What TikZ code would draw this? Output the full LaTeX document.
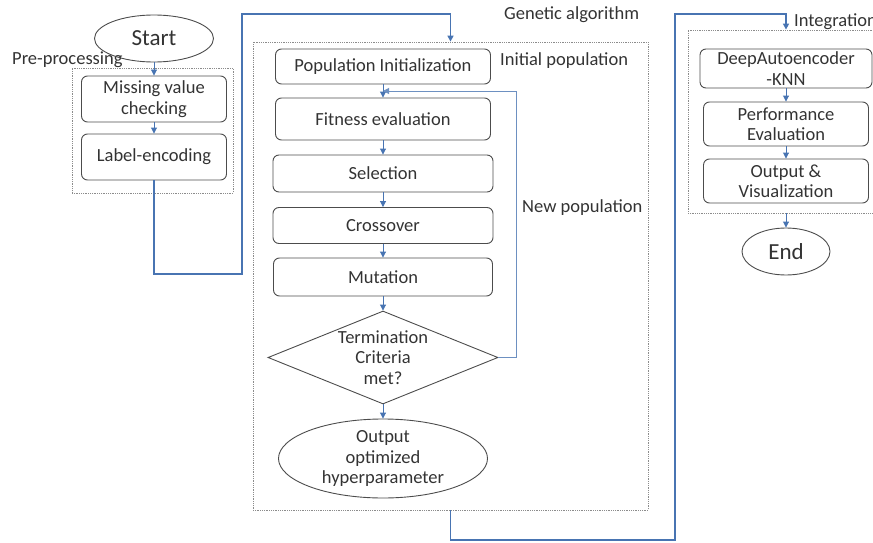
\documentclass[tikz,border=0pt]{standalone}
\usepackage{fontspec}
\setmainfont{Carlito}
\usetikzlibrary{shapes.geometric,arrows.meta}
\definecolor{linkblue}{RGB}{72,116,178}

\begin{document}
\begin{tikzpicture}[x=1pt,y=-1pt,
  proc/.style={draw=black!70, line width=0.9pt, rounded corners=6pt, align=center,
    inner sep=0pt, font=\fontsize{18.5}{20.5}\selectfont, text=black!80},
  term/.style={draw=black!70, line width=0.9pt, ellipse, align=center,
    inner xsep=0pt, inner ysep=-3pt, text=black!80},
  decision/.style={draw=black!70, line width=0.9pt, diamond, aspect=2.47, align=center,
    inner xsep=0pt, inner ysep=-2pt, font=\fontsize{18.5}{20.5}\selectfont, text=black!80},
  grp/.style={draw=black!45, densely dotted, line width=0.8pt, inner sep=0pt},
  lbl/.style={anchor=west, inner sep=0pt, font=\fontsize{18.5}{20.5}\selectfont, text=black!80},
  flow/.style={draw=linkblue, line width=1.6pt, -{Triangle[length=6pt,width=6pt]}},
  tip/.style={draw=linkblue, line width=0.9pt, -{Triangle[length=6pt,width=6pt]}},
  back/.style={draw=linkblue!80, line width=1pt, -{Triangle[length=6pt,width=6pt]}}]
\useasboundingbox (0,0) rectangle (873,543);

% groups
\node[grp, minimum width=161, minimum height=125] (pre) at (152.5,130.5) {};
\node[grp, minimum width=395, minimum height=468] (ga) at (450.5,276) {};
\node[grp, minimum width=186, minimum height=183] (intg) at (781,121.5) {};

% group labels
\node[lbl] (preLbl) at (12,60) {Pre-processing};
\node[lbl] (gaLbl) at (504,15) {Genetic algorithm};
\node[lbl] (initLbl) at (500,61) {Initial population};
\node[lbl] (newLbl) at (522,208) {New population};
\node[lbl] (intgLbl) at (794,22) {Integration};

% pre-processing
\node[term, minimum width=119, minimum height=47, font=\fontsize{23}{25}\selectfont] (start) at (154,38.5) {Start};
\node[proc, minimum width=145, minimum height=46] (missing) at (154,99) {Missing value\\checking};
\node[proc, minimum width=145, minimum height=46] (label) at (154,157) {Label-encoding};

% genetic algorithm
\node[proc, minimum width=215, minimum height=35] (popinit) at (383,66.5) {Population Initialization};
\node[proc, minimum width=215, minimum height=42] (fitness) at (383,119) {Fitness evaluation};
\node[proc, minimum width=220, minimum height=37] (select) at (383,173.5) {Selection};
\node[proc, minimum width=220, minimum height=36] (cross) at (383,225.5) {Crossover};
\node[proc, minimum width=219, minimum height=38] (mutate) at (383,277) {Mutation};
\node[decision, minimum width=230, minimum height=93] (crit) at (383,357.5) {Termination\\Criteria\\met?};
\node[term, minimum width=209, minimum height=79, font=\fontsize{18.5}{20.5}\selectfont] (result) at (383,458.5) {Output\\optimized\\hyperparameter};
\coordinate (merge) at (383,91);

% integration
\node[proc, minimum width=172, minimum height=39] (deep) at (786,68.5) {DeepAutoencoder\\-KNN};
\node[proc, minimum width=165, minimum height=44] (perf) at (786,124) {Performance\\Evaluation};
\node[proc, minimum width=165, minimum height=44] (outvis) at (786,181) {Output \&\\Visualization};
\node[term, minimum width=88, minimum height=47, font=\fontsize{23}{25}\selectfont] (endn) at (786,251.5) {End};

% short arrows
\draw[tip] (start) -- (missing);
\draw[tip] (missing) -- (label);
\draw[tip] (popinit) -- (fitness);
\draw[tip] (fitness) -- (select);
\draw[tip] (select) -- (cross);
\draw[tip] (cross) -- (mutate);
\draw[tip] (mutate) -- (crit);
\draw[tip] (crit) -- (result);
\draw[tip] (deep) -- (perf);
\draw[tip] (perf) -- (outvis);
\draw[tip] (intg.south -| endn) -- (endn);

% feedback loop
\draw[back] (crit.east) -| (516,91) -- (merge);

% long connectors
\draw[flow] (label.south) |- (242,274) -- (242,14) -| (ga.north);
\draw[flow] (ga.south) |- (675,540) -- (675,14) -| ([xshift=5pt]intg.north);
\end{tikzpicture}
\end{document}
